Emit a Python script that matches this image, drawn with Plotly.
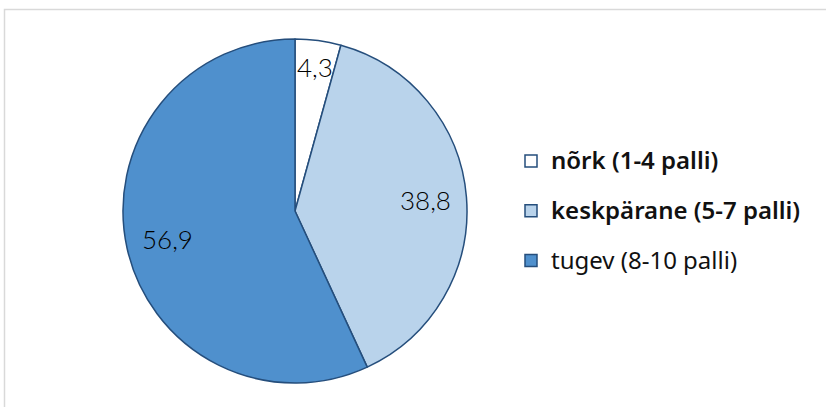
import math
import plotly.graph_objects as go

labels = ["nõrk (1-4 palli)", "keskpärane (5-7 palli)", "tugev (8-10 palli)"]
values = [4.3, 38.8, 56.9]
colors = ["#FFFFFF", "#B9D3EB", "#4F90CD"]
label_weights = [600, 600, 400]        # legend text weight per item (style)
label_radius = [0.845, 0.764, 0.762]   # inside-label radial placement (style)

W, H = 826, 407
dom_x = [123/W, 467/W]
dom_y = [(H-383)/H, (H-39)/H]

legend_labels = [
    f'<span style="font-size:24px;font-weight:{w};baseline-shift:6px">{t}</span>'
    for t, w in zip(labels, label_weights)
]

fig = go.Figure(go.Pie(
    labels=legend_labels,
    values=values,
    sort=False,
    direction="clockwise",
    rotation=0,
    marker=dict(colors=colors, line=dict(color="#254E7C", width=1.5)),
    textinfo="none",
    domain=dict(x=dom_x, y=dom_y),
    hoverinfo="skip",
))

# value labels placed at each slice's mid-angle
cx = (dom_x[0] + dom_x[1]) / 2
cy = (dom_y[0] + dom_y[1]) / 2
rx = (dom_x[1] - dom_x[0]) / 2
ry = (dom_y[1] - dom_y[0]) / 2
total = sum(values)
cum = 0.0
for v, rr in zip(values, label_radius):
    mid = (cum + v / 2) / total * 2 * math.pi
    cum += v
    fig.add_annotation(
        x=cx + rr * rx * math.sin(mid), y=cy + rr * ry * math.cos(mid),
        xref="paper", yref="paper", showarrow=False,
        xanchor="center", yanchor="middle",
        text=f"{v:.1f}".replace(".", ","),
        font=dict(family="Lato", size=26, color="#000000", weight=300),
    )

fig.update_layout(
    width=W, height=H,
    margin=dict(l=0, r=0, t=0, b=0),
    paper_bgcolor="white",
    separators=", ",
    legend=dict(
        x=(531-20)/W, xanchor="left",
        y=(H-211)/H, yanchor="middle",
        font=dict(family="Noto Sans", size=36, color="#111111"),
    ),
    shapes=[dict(type="rect", xref="paper", yref="paper",
                 x0=4.5/W, x1=1.02, y0=-0.02, y1=1-9.5/H,
                 line=dict(color="#D9D9D9", width=1.5))],
)

fig.write_html("out.html")
